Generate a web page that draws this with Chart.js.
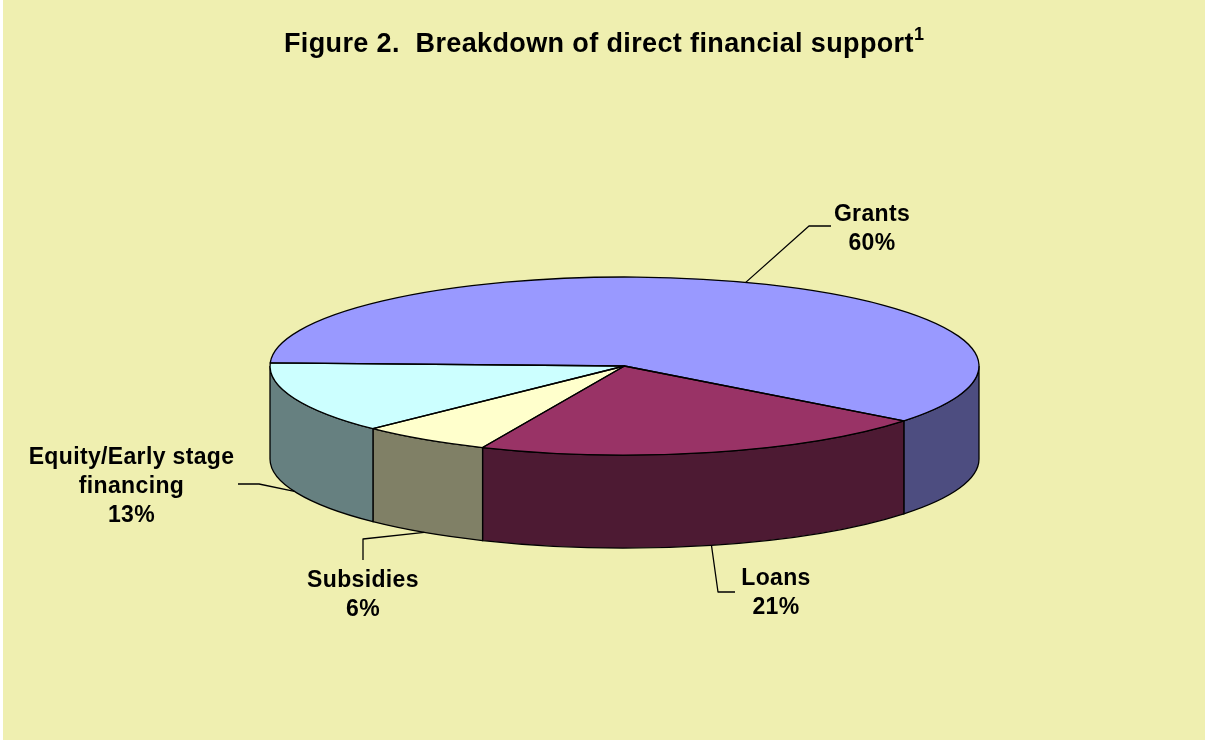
<!DOCTYPE html>
<html>
<head>
<meta charset="utf-8">
<style>
  html, body { margin: 0; padding: 0; background: #fff; }
  #wrap { width: 1205px; height: 740px; }
</style>
<script src="https://cdn.jsdelivr.net/npm/chart.js@4/dist/chart.umd.min.js"></script>
</head>
<body>
<div id="wrap"><canvas id="pie" width="1205" height="740"></canvas></div>
<script>
// Figure data: share of direct financial support by instrument
const categories = ['Grants', 'Loans', 'Subsidies', 'Equity/Early stage financing'];
const shares = [60, 21, 6, 13];
const topColors = ['#9999FF', '#993366', '#FFFFCC', '#CCFFFF'];
const wallColors = ['#4D4D80', '#4D1A33', '#808066', '#668080'];
const labelLines = [['Grants', '60%'], ['Loans', '21%'], ['Subsidies', '6%'], ['Equity/Early stage', 'financing', '13%']];

const PAGE_BG = '#EFEFB0';
const FONT = '"Liberation Sans", Arial, sans-serif';
const TILT = 89 / 354.5;   // vertical squash of the pie disc
const DEPTH = 93;          // height of the extruded wall

// Callout elbows and label anchors, per slice
const callouts = [
  { onTop: true,  elbow: [[809, 226], [831, 226]], text: [872, 215] },
  { onTop: false, elbow: [[718, 592], [735, 592]], text: [776, 579] },
  { onTop: false, elbow: [[363, 539], [363, 560]], text: [363, 581] },
  { onTop: false, elbow: [[259, 484], [238, 484]], text: [131.5, 458] }
];

function squashed(ctx, x, y, draw) {
  ctx.save();
  ctx.translate(x, y);
  ctx.scale(1, TILT);
  ctx.translate(-x, -y);
  draw();
  ctx.restore();
}

const pie3d = {
  id: 'pie3d',
  beforeDraw(chart) {
    const ctx = chart.ctx;
    ctx.save();
    ctx.fillStyle = PAGE_BG;
    ctx.fillRect(3, 0, chart.width - 3, chart.height);
    ctx.restore();
  },
  beforeDatasetsDraw(chart) {
    const ctx = chart.ctx;
    const arcs = chart.getDatasetMeta(0).data;
    ctx.save();
    ctx.lineWidth = 1.3;
    ctx.strokeStyle = '#000';
    // Walls: only the front half of the rim (angles 0..PI) is visible
    arcs.forEach((arc, i) => {
      const ry = arc.outerRadius * TILT;
      const spans = [[arc.startAngle, arc.endAngle], [arc.startAngle - 2 * Math.PI, arc.endAngle - 2 * Math.PI]];
      spans.forEach(([s, e]) => {
        const a0 = Math.max(s, 0), a1 = Math.min(e, Math.PI);
        if (a1 <= a0) return;
        ctx.beginPath();
        ctx.ellipse(arc.x, arc.y, arc.outerRadius, ry, 0, a0, a1);
        ctx.ellipse(arc.x, arc.y + DEPTH, arc.outerRadius, ry, 0, a1, a0, true);
        ctx.closePath();
        ctx.fillStyle = wallColors[i];
        ctx.fill();
        ctx.stroke();
      });
    });
    ctx.restore();
    // Flatten the slices the chart draws next
    const a = arcs[0];
    ctx.save();
    ctx.translate(a.x, a.y);
    ctx.scale(1, TILT);
    ctx.translate(-a.x, -a.y);
  },
  afterDatasetsDraw(chart) {
    const ctx = chart.ctx;
    ctx.restore();
    const arcs = chart.getDatasetMeta(0).data;
    ctx.save();
    ctx.lineWidth = 1.3;
    ctx.strokeStyle = '#000';
    ctx.lineJoin = 'round';
    // Slice outlines, stroked outside the squash so the line stays even
    arcs.forEach(arc => {
      ctx.beginPath();
      squashed(ctx, arc.x, arc.y, () => {
        ctx.moveTo(arc.x, arc.y);
        ctx.arc(arc.x, arc.y, arc.outerRadius, arc.startAngle, arc.endAngle);
        ctx.closePath();
      });
      ctx.stroke();
    });
    // Callout leaders start on the rim at each slice's middle angle
    arcs.forEach((arc, i) => {
      const c = callouts[i];
      const mid = (arc.startAngle + arc.endAngle) / 2;
      const px = arc.x + arc.outerRadius * Math.cos(mid);
      const py = arc.y + arc.outerRadius * TILT * Math.sin(mid) + (c.onTop ? 0 : DEPTH);
      ctx.beginPath();
      ctx.moveTo(px, py);
      c.elbow.forEach(p => ctx.lineTo(p[0], p[1]));
      ctx.stroke();
    });
    // Category and percentage labels
    ctx.fillStyle = '#000';
    ctx.font = 'bold 23px ' + FONT;
    ctx.textAlign = 'center';
    ctx.textBaseline = 'middle';
    ctx.letterSpacing = '0.35px';
    labelLines.forEach((lines, i) => {
      lines.forEach((t, j) => ctx.fillText(t, callouts[i].text[0], callouts[i].text[1] + j * 29));
    });
    // Figure title with its footnote mark
    ctx.textAlign = 'left';
    ctx.textBaseline = 'alphabetic';
    ctx.font = 'bold 27px ' + FONT;
    ctx.letterSpacing = '0.37px';
    ctx.fillText('Figure 2.  Breakdown of direct financial support', 284, 52);
    ctx.font = 'bold 18px ' + FONT;
    ctx.letterSpacing = '0px';
    ctx.fillText('1', 914, 40);
    ctx.restore();
  }
};

new Chart(document.getElementById('pie'), {
  type: 'pie',
  data: {
    labels: categories,
    datasets: [{ data: shares, backgroundColor: topColors, borderWidth: 0, hoverOffset: 0 }]
  },
  options: {
    responsive: false,
    animation: false,
    rotation: 272,
    events: [],
    layout: { padding: { left: 270, right: 226, top: 11.5, bottom: 19.5 } },
    plugins: { legend: { display: false }, tooltip: { enabled: false }, title: { display: false } }
  },
  plugins: [pie3d]
});
</script>
</body>
</html>
